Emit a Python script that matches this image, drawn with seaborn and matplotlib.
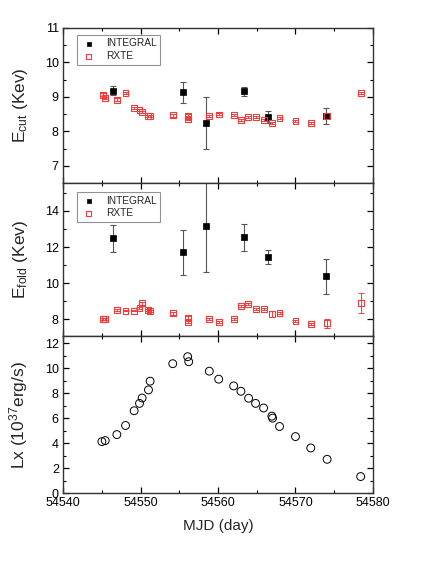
"""Three-panel spectral evolution plot: E_cut, E_fold and Lx vs MJD"""
import numpy as np
import pandas as pd
import matplotlib
matplotlib.use('Agg')
import matplotlib.pyplot as plt
import seaborn as sns
from matplotlib.ticker import MultipleLocator

# INTEGRAL points (cutoff and folding energies)
int_mjd = [54546.44, 54555.45, 54558.45, 54563.35, 54566.44, 54573.90]
int_ecut = [9.18, 9.13, 8.24, 9.16, 8.42, 8.44]
int_ecut_err = [0.13, 0.30, 0.76, 0.14, 0.17, 0.23]
int_efold = [12.48, 11.71, 13.14, 12.54, 11.43, 10.37]
int_efold_err = [0.75, 1.24, 2.50, 0.76, 0.39, 0.95]

# RXTE points
rxte_mjd = [54545.15, 54545.40, 54546.95, 54548.07, 54549.18, 54549.87, 54550.21,
            54550.99, 54551.24, 54554.16, 54556.09, 54556.18, 54558.88, 54560.09,
            54562.02, 54562.96, 54563.91, 54564.85, 54565.88, 54566.99, 54567.94,
            54570.00, 54571.97, 54574.05, 54578.41]
rxte_ecut = [9.06, 8.98, 8.92, 9.11, 8.69, 8.61, 8.56, 8.44, 8.44, 8.47, 8.44, 8.37,
             8.44, 8.49, 8.47, 8.33, 8.41, 8.41, 8.33, 8.23, 8.38, 8.30, 8.24, 8.44, 9.11]
rxte_ecut_err = [0.04, 0.03, 0.04, 0.03, 0.03, 0.03, 0.03, 0.03, 0.03, 0.04, 0.05, 0.04,
                 0.03, 0.03, 0.03, 0.03, 0.03, 0.03, 0.03, 0.03, 0.03, 0.03, 0.03, 0.05, 0.04]
rxte_efold = [8.00, 8.00, 8.50, 8.48, 8.48, 8.61, 8.88, 8.51, 8.48, 8.33, 8.06, 7.87,
              8.00, 7.87, 8.04, 8.75, 8.83, 8.55, 8.55, 8.30, 8.33, 7.93, 7.72, 7.78, 8.92]
rxte_efold_err = [0.06, 0.06, 0.05, 0.04, 0.04, 0.06, 0.06, 0.06, 0.05, 0.07, 0.15, 0.08,
                  0.05, 0.05, 0.05, 0.05, 0.05, 0.05, 0.05, 0.15, 0.05, 0.05, 0.05, 0.25, 0.55]

# Luminosity (10^37 erg/s)
lx_mjd = [54545.02, 54545.45, 54546.95, 54548.07, 54549.18, 54549.87, 54550.21,
          54551.03, 54551.24, 54554.16, 54556.09, 54556.22, 54558.88, 54560.09,
          54562.02, 54562.96, 54563.95, 54564.85, 54565.88, 54566.95, 54567.04,
          54567.94, 54570.00, 54571.97, 54574.08, 54578.41]
lx = [4.14, 4.22, 4.70, 5.43, 6.61, 7.20, 7.63, 8.28, 8.98, 10.38, 10.94, 10.54,
      9.78, 9.14, 8.60, 8.17, 7.61, 7.20, 6.83, 6.18, 6.02, 5.35, 4.54, 3.63, 2.72, 1.34]

sns.set_style('ticks')
plt.rcParams['font.family'] = ['Liberation Sans', 'DejaVu Sans']
plt.rcParams['mathtext.fontset'] = 'custom'
plt.rcParams['mathtext.rm'] = 'Liberation Sans'
plt.rcParams['mathtext.it'] = 'Liberation Sans'

fig = plt.figure(figsize=(4.36, 5.64), dpi=100)
left, width = 0.1445, 0.711
ax1 = fig.add_axes([left, 0.6755, width, 0.2749])
ax2 = fig.add_axes([left, 0.4043, width, 0.2712], sharex=ax1)
ax3 = fig.add_axes([left, 0.1254, width, 0.2789], sharex=ax1)

red = '#f03c3c'
gray = '#555555'


def energy_panel(ax, iy, iyerr, ry, ryerr, top):
    ax.errorbar(rxte_mjd, ry, yerr=ryerr, fmt='none', ecolor=red, elinewidth=0.7,
                capsize=2.5, capthick=0.7, zorder=2)
    ax.errorbar(int_mjd, iy, yerr=iyerr, fmt='none', ecolor=gray, elinewidth=0.8,
                capsize=2.5, capthick=0.8, zorder=2)
    sns.scatterplot(x=int_mjd, y=iy, ax=ax, marker='s', s=20, color='black',
                    edgecolor='black', linewidth=0.5, label='INTEGRAL', zorder=3)
    sns.scatterplot(x=rxte_mjd, y=ry, ax=ax, marker='s', s=18, facecolor='none',
                    edgecolor=red, linewidth=0.8, label='RXTE', zorder=3)
    leg = ax.legend(loc='upper left', bbox_to_anchor=(0.045, top), borderaxespad=0,
                    fontsize=7.3, frameon=True, fancybox=False, edgecolor='#777777',
                    handletextpad=0.9, borderpad=0.35, labelspacing=0.25,
                    handlelength=1.6, markerscale=0.75)
    leg.get_frame().set_linewidth(0.8)


energy_panel(ax1, int_ecut, int_ecut_err, rxte_ecut, rxte_ecut_err, 0.955)
energy_panel(ax2, int_efold, int_efold_err, rxte_efold, rxte_efold_err, 0.94)

sns.scatterplot(x=lx_mjd, y=lx, ax=ax3, marker='o', s=32, facecolor='none',
                edgecolor='black', linewidth=0.7, zorder=3)

ax1.set_ylim(6.5, 11)
ax1.yaxis.set_major_locator(MultipleLocator(1))
ax1.yaxis.set_minor_locator(MultipleLocator(0.5))
ax2.set_ylim(7.08, 15.54)
ax2.yaxis.set_major_locator(MultipleLocator(2))
ax2.yaxis.set_minor_locator(MultipleLocator(1))
ax3.set_ylim(0, 12.6)
ax3.yaxis.set_major_locator(MultipleLocator(2))
ax3.yaxis.set_minor_locator(MultipleLocator(1))

ax3.set_xlim(54540, 54580)
ax3.xaxis.set_major_locator(MultipleLocator(10))
ax3.xaxis.set_minor_locator(MultipleLocator(5))
ax3.xaxis.set_major_formatter(matplotlib.ticker.FormatStrFormatter('%d'))

for ax in (ax1, ax2, ax3):
    ax.tick_params(which='both', direction='in', top=True, right=True,
                   labelsize=9, colors='black', pad=3)
    ax.tick_params(which='major', length=4.5, width=0.9)
    ax.tick_params(which='minor', length=2.5, width=0.8)
    for sp in ax.spines.values():
        sp.set_linewidth(1.0)
        sp.set_color('#333333')
for ax in (ax1, ax2):
    ax.tick_params(labelbottom=False)

lbl = dict(fontsize=12.5)
ax1.set_ylabel(r'E$_{\rm cut}$ (Kev)', **lbl)
ax2.set_ylabel(r'E$_{\rm fold}$ (Kev)', **lbl)
ax3.set_ylabel(r'Lx (10$^{37}$erg/s)', **lbl)
ax3.set_xlabel('MJD (day)', fontsize=11, labelpad=7)
for ax in (ax1, ax2, ax3):
    ax.yaxis.set_label_coords(-0.105, 0.5)

fig.savefig('out.png', dpi=100)
